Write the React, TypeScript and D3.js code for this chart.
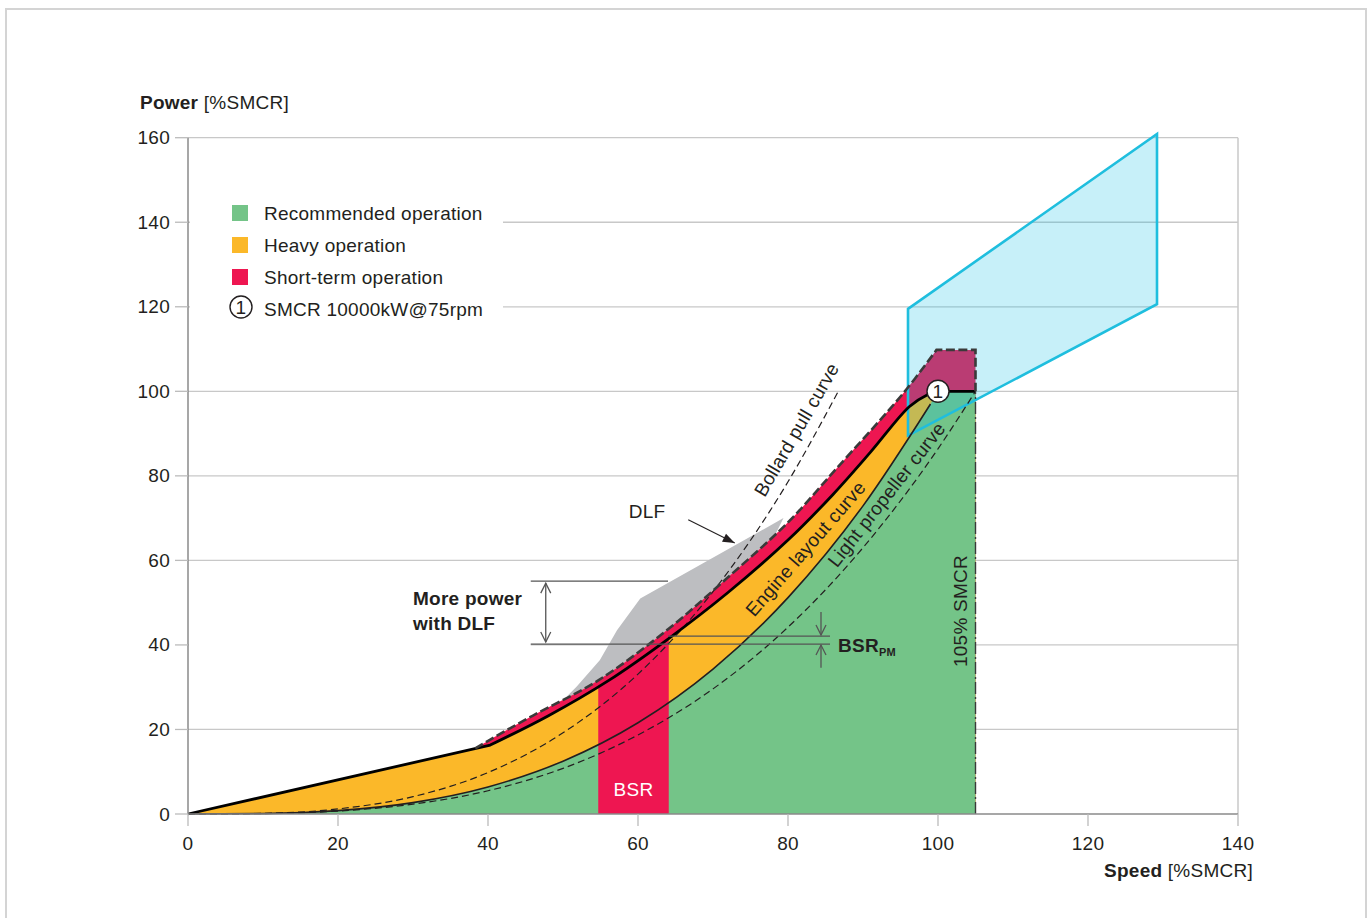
import React from 'react';
import * as d3 from 'd3';

// ---------- data ----------
const X_TICKS = [0, 20, 40, 60, 80, 100, 120, 140];
const Y_TICKS = [0, 20, 40, 60, 80, 100, 120, 140, 160];

// Engine layout curve: straight part, then curved part up to SMCR
const engineStraight: [number, number][] = [[0, 0], [40.3, 16.3]];
const engineCurve: [number, number][] = [
  [40.3, 16.3], [48, 23.2], [56, 31.5], [64, 41.4], [72, 52.4], [80, 64.8],
  [86, 75.6], [91, 85.6], [96.2, 96.4], [98.6, 99.2], [100, 100],
];
// Upper limit of short-term operation (heavy dashed)
const upperLimit: [number, number][] = [
  [38.3, 15.5], [40.3, 17.6], [46, 23.3], [54.6, 31.5], [64, 43.7], [72, 56],
  [80, 69], [86.3, 81.4], [95.4, 99.6], [99.8, 109.8],
];
const upperLimitTail: [number, number][] = [[99.8, 109.8], [105, 109.8], [105, 100]];
// Light propeller curve (solid)
const lightPropeller: [number, number][] = [
  [0, 0], [10, 0.1], [20, 0.8], [30, 2.7], [40, 6.4], [50, 12.5], [60, 21.6],
  [70, 34.3], [80, 51.2], [90, 72.9], [99, 97],
];
// Lower dashed propeller curve
const lowerDashed: [number, number][] = [
  [0, 0], [10, 0.09], [20, 0.7], [30, 2.33], [40, 5.5], [50, 10.8], [60, 18.7],
  [70, 29.6], [80, 44.2], [90, 63], [100, 86.4], [105, 100],
];
// Bollard pull curve (dashed)
const bollardPull: [number, number][] = [
  [0, 0], [10, 0.15], [20, 1.2], [30, 4.1], [40, 9.8], [50, 19.2], [60, 33.1],
  [70, 52.6], [80, 78.6], [86.7, 100],
];
// DLF grey area
const dlfArea: [number, number][] = [
  [50.6, 28], [51.8, 30.1], [54.9, 36.4], [57.2, 43.5], [60.3, 51], [79.4, 70],
  [78, 65], [60, 37], [50, 26.2],
];
// Barred speed range
const BSR = [54.7, 64.1];
// Extended layout (cyan) polygon
const cyanBox: [number, number][] = [[96, 119.5], [129.2, 160.9], [129.2, 120.6], [96, 89.5]];
const SMCR: [number, number] = [100, 100];
const LIMIT_105 = 105;

// annotation values
const moreDLF = { xFrom: 45.7, xTop: 64, xBottom: 85.6, yTop: 55.1, yBottom: 40.2, xArrow: 47.7 };
const bsrPM = { xFrom: 64, xTo: 85.6, y: 42.1, xArrow: 84.4, yAbove: 47.8, yBelow: 34.6 };
const dlfArrow = { x1: 66.7, y1: 69.6, x2: 72.9, y2: 64.1 };

const LEGEND = [
  { label: 'Recommended operation', color: '#74C488' },
  { label: 'Heavy operation', color: '#FBB829' },
  { label: 'Short-term operation', color: '#EE1651' },
];
const LEGEND_SMCR = 'SMCR 10000kW@75rpm';

const GREEN = '#74C488';
const YELLOW = '#FBB829';
const RED = '#EE1651';
const GREY = '#BDBEC1';

const FONT = '"Liberation Sans", Arial, Helvetica, sans-serif';

export default function App() {
  const x = d3.scaleLinear().domain([0, 140]).range([188, 1238]);
  const y = d3.scaleLinear().domain([0, 160]).range([814, 137.7]);

  const curve = d3.line<[number, number]>().x(d => x(d[0])).y(d => y(d[1])).curve(d3.curveMonotoneX);
  const smooth = d3.line<[number, number]>().x(d => x(d[0])).y(d => y(d[1])).curve(d3.curveCatmullRom.alpha(0.5));
  const lin = d3.line<[number, number]>().x(d => x(d[0])).y(d => y(d[1]));
  const L = (p: [number, number]) => `L${x(p[0])},${y(p[1])}`;

  const engineD = lin(engineStraight)! + smooth(engineCurve)!.replace(/^M[^CL]*/, '');
  const engineFull = engineD + L([105, 100]);

  const upperD = smooth(upperLimit)!;
  const redD = upperD + L([105, 109.8]) + L([105, 0]) + L([38.3, 0]) + 'Z';
  const yellowD = engineD + L([105, 100]) + L([105, 0]) + L([0, 0]) + 'Z';
  const greenD = curve(lightPropeller)! + L([100, 100]) + L([105, 100]) + L([105, 0]) + 'Z';

  const chevron = (cx: number, cy: number, dir: number) =>
    `M${cx - 5},${cy - dir * 10}L${cx},${cy}L${cx + 5},${cy - dir * 10}`;

  const arrowHead = () => {
    const x1 = x(dlfArrow.x1), y1 = y(dlfArrow.y1), x2 = x(dlfArrow.x2), y2 = y(dlfArrow.y2);
    const a = Math.atan2(y2 - y1, x2 - x1);
    const len = 12, w = 4.5;
    const bx = x2 - len * Math.cos(a), by = y2 - len * Math.sin(a);
    const nx = -Math.sin(a), ny = Math.cos(a);
    return `M${x2},${y2}L${bx + nx * w},${by + ny * w}L${bx - nx * w},${by - ny * w}Z`;
  };

  const textStyle: React.CSSProperties = { fontFamily: FONT, fontSize: 19, fill: '#231F20', letterSpacing: 0.25 };

  return (
    <svg width={1370} height={918} style={{ position: 'absolute', left: 0, top: 0, background: '#fff' }}>
      {/* page frame */}
      <rect x={6} y={9} width={1360} height={930} fill="#fff" stroke="#d4d4d4" strokeWidth={2} />

      {/* grid */}
      {Y_TICKS.filter(t => t > 0).map(t => (
        <line key={t} x1={x(0)} x2={x(140)} y1={y(t)} y2={y(t)} stroke="#c8c8c8" strokeWidth={1.3} />
      ))}
      <line x1={x(140)} x2={x(140)} y1={y(160)} y2={y(0)} stroke="#c8c8c8" strokeWidth={1.5} />

      {/* white box behind the DLF text */}
      <rect x={x(0) + 1} y={568} width={x(moreDLF.xFrom) - x(0) - 1} height={82} fill="#fff" />

      {/* DLF area */}
      <path d={lin(dlfArea)! + 'Z'} fill={GREY} />

      {/* operation areas */}
      <clipPath id="underEngine"><path d={yellowD} /></clipPath>
      <path d={redD} fill={RED} />
      <path d={yellowD} fill={YELLOW} />
      <path d={greenD} fill={GREEN} />
      <rect x={x(BSR[0])} y={y(60)} width={x(BSR[1]) - x(BSR[0])} height={y(0) - y(60)} fill={RED} clipPath="url(#underEngine)" />

      {/* cyan box */}
      <path d={lin(cyanBox)! + 'Z'} fill="rgba(11,191,230,0.23)" stroke="#1FBEDE" strokeWidth={2.6} strokeLinejoin="miter" />

      {/* curves */}
      <path d={curve(lowerDashed)!} fill="none" stroke="#231F20" strokeWidth={1.2} strokeDasharray="7,4" />
      <path d={curve(bollardPull)!} fill="none" stroke="#231F20" strokeWidth={1.2} strokeDasharray="7,4" />
      <path d={curve(lightPropeller)!} fill="none" stroke="#231F20" strokeWidth={1.6} />
      <path d={engineFull} fill="none" stroke="#000" strokeWidth={2.8} strokeLinejoin="round" />
      <path d={upperD + lin(upperLimitTail)!.replace(/^M/, 'L')} fill="none" stroke="#3a3a3a" strokeWidth={2.6} strokeDasharray="9,3.5" />
      <line x1={x(LIMIT_105)} x2={x(LIMIT_105)} y1={y(0)} y2={y(100)} stroke="#3a3a3a" strokeWidth={1.4} strokeDasharray="12,3,2,3" />

      {/* BSR label */}
      <text x={(x(BSR[0]) + x(BSR[1])) / 2} y={796} textAnchor="middle" style={{ ...textStyle, fill: '#fff' }}>BSR</text>

      {/* More power with DLF annotation */}
      <g stroke="#555" strokeWidth={1.3} fill="none">
        <line x1={x(moreDLF.xFrom)} x2={x(moreDLF.xTop)} y1={y(moreDLF.yTop)} y2={y(moreDLF.yTop)} />
        <line x1={x(moreDLF.xFrom)} x2={x(moreDLF.xBottom)} y1={y(moreDLF.yBottom)} y2={y(moreDLF.yBottom)} />
        <line x1={x(moreDLF.xArrow)} x2={x(moreDLF.xArrow)} y1={y(moreDLF.yTop) + 2} y2={y(moreDLF.yBottom) - 2} />
        <path d={chevron(x(moreDLF.xArrow), y(moreDLF.yTop) + 2, -1)} />
        <path d={chevron(x(moreDLF.xArrow), y(moreDLF.yBottom) - 2, 1)} />
        <line x1={x(bsrPM.xFrom)} x2={x(bsrPM.xTo)} y1={y(bsrPM.y)} y2={y(bsrPM.y)} />
        <line x1={x(bsrPM.xArrow)} x2={x(bsrPM.xArrow)} y1={y(bsrPM.yAbove)} y2={y(bsrPM.y) - 1} />
        <path d={chevron(x(bsrPM.xArrow), y(bsrPM.y) - 1, 1)} />
        <line x1={x(bsrPM.xArrow)} x2={x(bsrPM.xArrow)} y1={y(bsrPM.yBelow)} y2={y(moreDLF.yBottom) + 1} />
        <path d={chevron(x(bsrPM.xArrow), y(moreDLF.yBottom) + 1, -1)} />
      </g>
      <text x={413} y={605} style={{ ...textStyle, fontWeight: 700 }}>More power</text>
      <text x={413} y={630} style={{ ...textStyle, fontWeight: 700 }}>with DLF</text>
      <text x={838} y={652} style={{ ...textStyle, fontWeight: 700 }}>
        BSR<tspan fontSize={11} dy={4}>PM</tspan>
      </text>

      {/* DLF label + arrow */}
      <text x={647} y={518} textAnchor="middle" style={textStyle}>DLF</text>
      <line x1={x(dlfArrow.x1)} y1={y(dlfArrow.y1)} x2={x(dlfArrow.x2)} y2={y(dlfArrow.y2)} stroke="#231F20" strokeWidth={1.2} />
      <path d={arrowHead()} fill="#231F20" />

      {/* rotated curve labels */}
      <text transform="translate(797,430) rotate(-60)" textAnchor="middle" dy={6} style={textStyle}>Bollard pull curve</text>
      <text transform="translate(806,549) rotate(-49)" textAnchor="middle" dy={6} style={textStyle}>Engine layout curve</text>
      <text transform="translate(887,495) rotate(-52)" textAnchor="middle" dy={6} style={textStyle}>Light propeller curve</text>
      <text transform="translate(961,611) rotate(-90)" textAnchor="middle" dy={6} style={textStyle}>105% SMCR</text>

      {/* SMCR point */}
      <circle cx={x(SMCR[0])} cy={y(SMCR[1])} r={11} fill="#fff" stroke="#231F20" strokeWidth={1.4} />
      <text x={x(SMCR[0])} y={y(SMCR[1]) + 6.5} textAnchor="middle" style={textStyle}>1</text>

      {/* legend */}
      <rect x={190} y={192} width={313} height={132} fill="#fff" />
      {LEGEND.map((d, i) => (
        <g key={d.label}>
          <rect x={232} y={205 + i * 32} width={16} height={16} fill={d.color} />
          <text x={264} y={219.5 + i * 32} style={textStyle}>{d.label}</text>
        </g>
      ))}
      <circle cx={241} cy={307} r={11} fill="#fff" stroke="#231F20" strokeWidth={1.4} />
      <text x={241} y={313.5} textAnchor="middle" style={textStyle}>1</text>
      <text x={264} y={315.5} style={textStyle}>{LEGEND_SMCR}</text>

      {/* axes */}
      <line x1={x(0)} x2={x(0)} y1={y(160)} y2={y(0)} stroke="#8a8a8a" strokeWidth={1.5} />
      <line x1={x(0)} x2={x(140)} y1={y(0)} y2={y(0)} stroke="#8a8a8a" strokeWidth={1.5} />
      {Y_TICKS.map(t => (
        <g key={t}>
          <line x1={x(0) - 13} x2={x(0)} y1={y(t)} y2={y(t)} stroke="#bbb" strokeWidth={1.3} />
          <text x={170} y={y(t) + 6.5} textAnchor="end" style={textStyle}>{t}</text>
        </g>
      ))}
      {X_TICKS.map(t => (
        <g key={t}>
          <line x1={x(t)} x2={x(t)} y1={y(0)} y2={y(0) + 12} stroke="#bbb" strokeWidth={1.3} />
          <text x={x(t)} y={850} textAnchor="middle" style={textStyle}>{t}</text>
        </g>
      ))}
      <text x={140} y={109} style={textStyle}>
        <tspan fontWeight={700}>Power</tspan> [%SMCR]
      </text>
      <text x={1253} y={877} textAnchor="end" style={textStyle}>
        <tspan fontWeight={700}>Speed</tspan> [%SMCR]
      </text>
    </svg>
  );
}
